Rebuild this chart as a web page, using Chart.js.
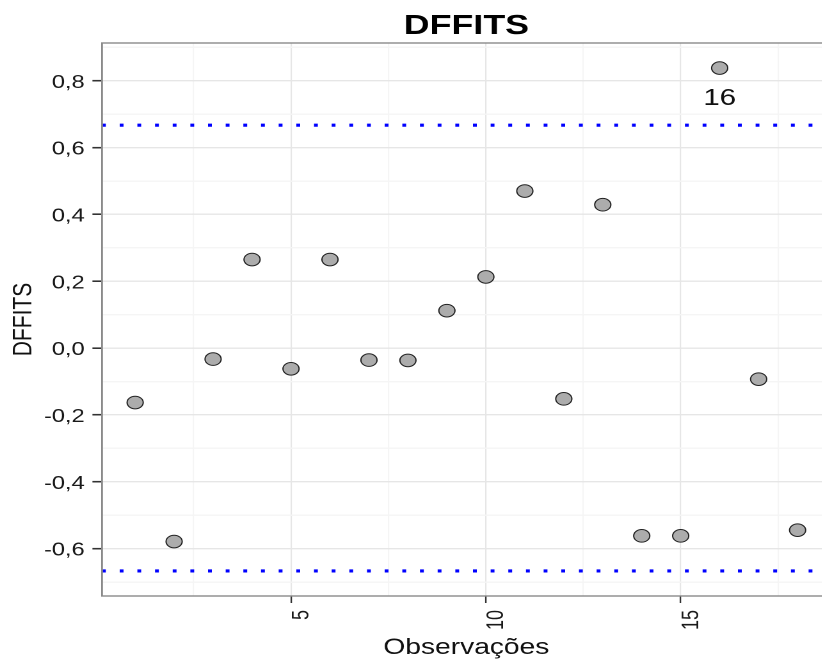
<!DOCTYPE html>
<html>
<head>
<meta charset="utf-8">
<script src="https://cdn.jsdelivr.net/npm/chart.js@4.4.1/dist/chart.umd.min.js"></script>
<style>
  html, body { margin: 0; padding: 0; background: #fff; overflow: hidden; width: 822px; height: 659px; }
  #dffitschart { display: block; transform: scaleX(1.28); transform-origin: 0 0; }
</style>
</head>
<body>
<canvas id="dffitschart" width="660" height="659"></canvas>
<script>
// observation number and its DFFITS value
var obs = [1, 2, 3, 4, 5, 6, 7, 8, 9, 10, 11, 12, 13, 14, 15, 16, 17, 18];
var dffits = [-0.163, -0.579, -0.033, 0.265, -0.062, 0.265, -0.036, -0.037, 0.112,
              0.213, 0.470, -0.152, 0.429, -0.562, -0.562, 0.838, -0.093, -0.545];
// cut-off lines (+/-) and the observation that gets a label
var cutoff = 0.667;
var labelled = [16];

var xRange = [0.15, 18.85];
var yRange = [-0.742, 0.913];
var xTicks = [2.5, 5, 7.5, 10, 12.5, 15, 17.5];
var xMajor = [5, 10, 15];
var yTicks = [-0.7, -0.6, -0.5, -0.4, -0.3, -0.2, -0.1, 0, 0.1, 0.2, 0.3, 0.4, 0.5, 0.6, 0.7, 0.8, 0.9];
var yMajor = [-0.6, -0.4, -0.2, 0, 0.2, 0.4, 0.6, 0.8];

var FONT = "'Liberation Sans', Arial, sans-serif";

function isMajor(list, v) {
    return list.some(function (m) { return Math.abs(m - v) < 1e-6; });
}

var points = obs.map(function (o, i) { return { x: o, y: dffits[i] }; });

var panelPlugin = {
    id: 'panel',
    afterDraw: function (chart) {
        var ctx = chart.ctx, a = chart.chartArea;
        ctx.save();
        ctx.strokeStyle = '#8a8a8a';
        ctx.lineWidth = 1.4;
        ctx.strokeRect(a.left, a.top, a.right - a.left, a.bottom - a.top);
        // main title, centred over the panel
        ctx.fillStyle = '#000';
        ctx.font = 'bold 28px ' + FONT;
        ctx.textAlign = 'center';
        ctx.textBaseline = 'middle';
        ctx.fillText('DFFITS', (a.left + a.right) / 2, 26.5);
        ctx.restore();
    },
    afterDatasetsDraw: function (chart) {
        var ctx = chart.ctx;
        var meta = chart.getDatasetMeta(2);
        ctx.save();
        ctx.fillStyle = '#111';
        ctx.font = '23px ' + FONT;
        ctx.textAlign = 'center';
        ctx.textBaseline = 'middle';
        labelled.forEach(function (o) {
            var el = meta.data[obs.indexOf(o)];
            ctx.fillText(String(o), el.x, el.y + 30.5);
        });
        ctx.restore();
    }
};

var ctx = document.getElementById('dffitschart').getContext('2d');
var chart = new Chart(ctx, {
    type: 'scatter',
    data: {
        datasets: [{
            label: 'upper',
            data: [{ x: xRange[0], y: cutoff }, { x: xRange[1], y: cutoff }],
            showLine: true,
            borderColor: '#0000ff',
            borderWidth: 3.2,
            borderDash: [3, 10.8],
            borderCapStyle: 'butt',
            pointRadius: 0,
            fill: false
        }, {
            label: 'lower',
            data: [{ x: xRange[0], y: -cutoff }, { x: xRange[1], y: -cutoff }],
            showLine: true,
            borderColor: '#0000ff',
            borderWidth: 3.2,
            borderDash: [3, 10.8],
            borderCapStyle: 'butt',
            pointRadius: 0,
            fill: false
        }, {
            label: 'DFFITS',
            data: points,
            backgroundColor: '#acacac',
            borderColor: '#222',
            borderWidth: 1,
            pointRadius: 6.3,
            pointHoverRadius: 6.3
        }]
    },
    options: {
        responsive: false,
        animation: false,
        devicePixelRatio: 2,
        layout: { padding: { top: 43, right: 11, bottom: 0, left: 0 } },
        plugins: {
            legend: { display: false },
            tooltip: { enabled: false },
            title: { display: false }
        },
        scales: {
            x: {
                type: 'linear',
                min: xRange[0],
                max: xRange[1],
                afterBuildTicks: function (scale) {
                    scale.ticks = xTicks.map(function (v) { return { value: v }; });
                },
                afterFit: function (scale) { scale.height = 63; },
                border: { display: false },
                grid: {
                    color: function (c) { return isMajor(xMajor, c.tick.value) ? '#e6e6e6' : '#f5f5f5'; },
                    lineWidth: 1.1,
                    tickLength: 7,
                    tickWidth: 1.2,
                    tickColor: function (c) { return isMajor(xMajor, c.tick.value) ? '#333' : 'rgba(0,0,0,0)'; }
                },
                ticks: {
                    autoSkip: false,
                    minRotation: 90,
                    maxRotation: 90,
                    padding: 7,
                    labelOffset: 8.5,
                    color: '#1a1a1a',
                    font: { family: FONT, size: 18 },
                    callback: function (v) { return isMajor(xMajor, v) ? String(v) : ''; }
                },
                title: {
                    display: true,
                    text: 'Observações',
                    color: '#111',
                    font: { family: FONT, size: 22, lineHeight: 1 },
                    padding: { top: 0, bottom: 0 }
                }
            },
            y: {
                type: 'linear',
                min: yRange[0],
                max: yRange[1],
                afterBuildTicks: function (scale) {
                    scale.ticks = yTicks.map(function (v) { return { value: v }; });
                },
                afterFit: function (scale) { scale.width = 79.7; },
                border: { display: false },
                grid: {
                    color: function (c) { return isMajor(yMajor, c.tick.value) ? '#e6e6e6' : '#f5f5f5'; },
                    lineWidth: 1.4,
                    tickLength: 7.5,
                    tickWidth: 1.6,
                    tickColor: function (c) { return isMajor(yMajor, c.tick.value) ? '#333' : 'rgba(0,0,0,0)'; }
                },
                ticks: {
                    autoSkip: false,
                    padding: 6,
                    labelOffset: 2,
                    color: '#1a1a1a',
                    font: { family: FONT, size: 18.5 },
                    callback: function (v) {
                        return isMajor(yMajor, v) ? v.toFixed(1).replace('.', ',') : '';
                    }
                },
                title: {
                    display: true,
                    text: 'DFFITS',
                    color: '#111',
                    font: { family: FONT, size: 21, lineHeight: 1 },
                    padding: { top: 8.3, bottom: 0 }
                }
            }
        }
    },
    plugins: [panelPlugin]
});
</script>
</body>
</html>
